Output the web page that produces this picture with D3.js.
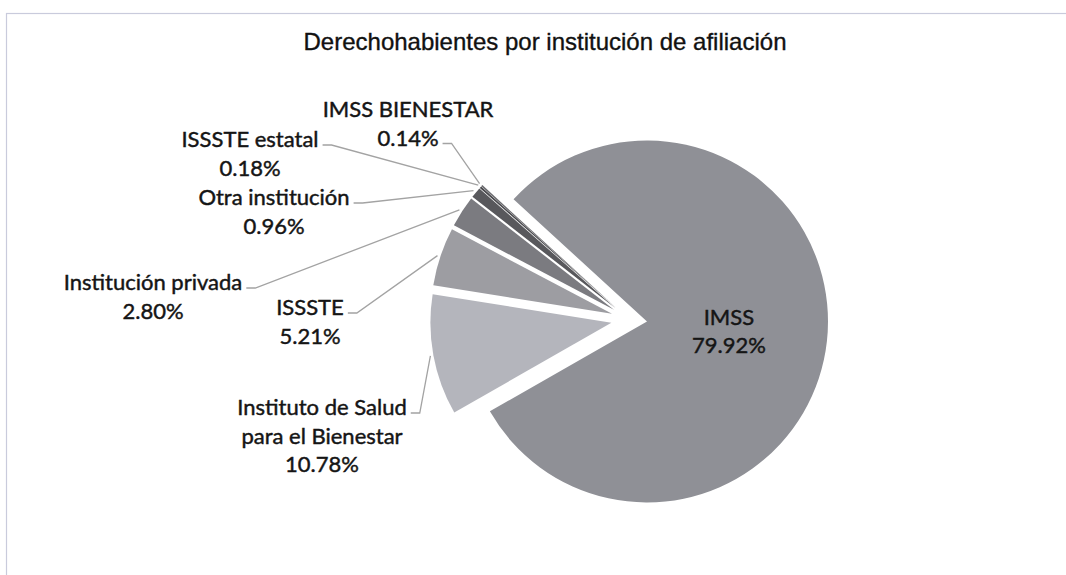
<!DOCTYPE html>
<html><head><meta charset="utf-8">
<script src="https://cdn.jsdelivr.net/npm/d3@7"></script>
<style>html,body{margin:0;padding:0;background:#fff;} svg{display:block}</style>
</head><body>
<svg id="chart" width="1066" height="575"></svg>
<script>
// ---- data ----
const title = "Derechohabientes por institución de afiliación";
const categories = ["IMSS", "Instituto de Salud para el Bienestar", "ISSSTE", "Institución privada", "Otra institución", "ISSSTE estatal", "IMSS BIENESTAR"];
const values = [79.92, 10.78, 5.21, 2.80, 0.96, 0.18, 0.14];
const labelNames = [["IMSS"], ["Instituto de Salud", "para el Bienestar"], ["ISSSTE"], ["Institución privada"], ["Otra institución"], ["ISSSTE estatal"], ["IMSS BIENESTAR"]];
const valueLabels = ["79.92%", "10.78%", "5.21%", "2.80%", "0.96%", "0.18%", "0.14%"];

// ---- styles / layout ----
const colors = ["#8f9096", "#b4b5bc", "#9d9da2", "#7b7b80", "#58585c", "#4a4a4e", "#6a6a6e"];
const R = 181, explode = 18, startDeg = -47.5;
const apexX = 647, apexY = 321.5;   // apex of the main (IMSS) slice
// external label layout: center x, first baseline y, leader attaches to line index
const labelLayout = [
  null,
  {x: 322, y: 415, attach: 0},
  {x: 310, y: 315, attach: 0},
  {x: 153, y: 290, attach: 0},
  {x: 274, y: 205, attach: 0},
  {x: 250, y: 147, attach: 0},
  {x: 408, y: 117, attach: 1}
];
const lineH = 28.5;
const labelFont = "Lato, 'Open Sans', sans-serif";
const labelSize = 22;

const svg = d3.select("#chart");
svg.append("rect").attr("x", 6.5).attr("y", 13.5).attr("width", 1100).attr("height", 600)
  .attr("fill", "none").attr("stroke", "#c9cbdc").attr("stroke-width", 1.2);

svg.append("text").attr("x", 545).attr("y", 50).attr("text-anchor", "middle")
  .attr("font-family", "'Liberation Sans', Arial, sans-serif").attr("font-size", 24)
  .attr("fill", "#111").attr("stroke", "#111").attr("stroke-width", 0.35).text(title);

const toRad = d => d * Math.PI / 180;
const pie = d3.pie().sort(null).value(d => d)
  .startAngle(toRad(startDeg)).endAngle(toRad(startDeg) + 2 * Math.PI);
const arcs = pie(values);
const arc = d3.arc().innerRadius(0).outerRadius(R);
const unit = a => [Math.sin(a), -Math.cos(a)];
const mid = d => (d.startAngle + d.endAngle) / 2;

// true center derived from the IMSS apex
const u0 = unit(mid(arcs[0]));
const cx = apexX - explode * u0[0], cy = apexY - explode * u0[1];

const g = svg.append("g").attr("transform", `translate(${cx},${cy})`);
g.selectAll("path.slice").data(arcs).join("path").attr("class", "slice")
  .attr("transform", d => { const u = unit(mid(d)); return `translate(${explode * u[0]},${explode * u[1]})`; })
  .attr("d", arc).attr("fill", (d, i) => colors[i]);

function styleLabel(t) {
  return t.attr("font-family", labelFont).attr("font-size", labelSize)
    .attr("fill", "#151515").attr("stroke", "#151515").attr("stroke-width", 0.45);
}

// IMSS internal label
{
  const c = arc.centroid(arcs[0]);
  const x = cx + explode * u0[0] + c[0] - 8, y = cy + explode * u0[1] + c[1];
  const t = styleLabel(svg.append("text").attr("text-anchor", "middle"));
  t.append("tspan").attr("x", x).attr("y", y - 7).text(labelNames[0][0]);
  t.append("tspan").attr("x", x).attr("y", y - 7 + lineH).text(valueLabels[0]);
}

// external labels + leader lines
arcs.forEach((d, i) => {
  const L = labelLayout[i];
  if (!L) return;
  const lines = labelNames[i].concat([valueLabels[i]]);
  const t = styleLabel(svg.append("text").attr("text-anchor", "middle"));
  const spans = lines.map((s, k) => t.append("tspan").attr("x", L.x).attr("y", L.y + k * lineH).text(s));
  const w = spans[L.attach].node().getComputedTextLength();
  const x0 = L.x + w / 2 + 4, y0 = L.y + L.attach * lineH - 2;
  const u = unit(mid(d));
  const ex = cx + (explode + R + 3) * u[0], ey = cy + (explode + R + 3) * u[1];
  svg.append("polyline").attr("points", `${x0},${y0} ${x0 + 9},${y0} ${ex},${ey}`)
    .attr("fill", "none").attr("stroke", "#a3a3a3").attr("stroke-width", 1.3);
});
</script>
</body></html>
